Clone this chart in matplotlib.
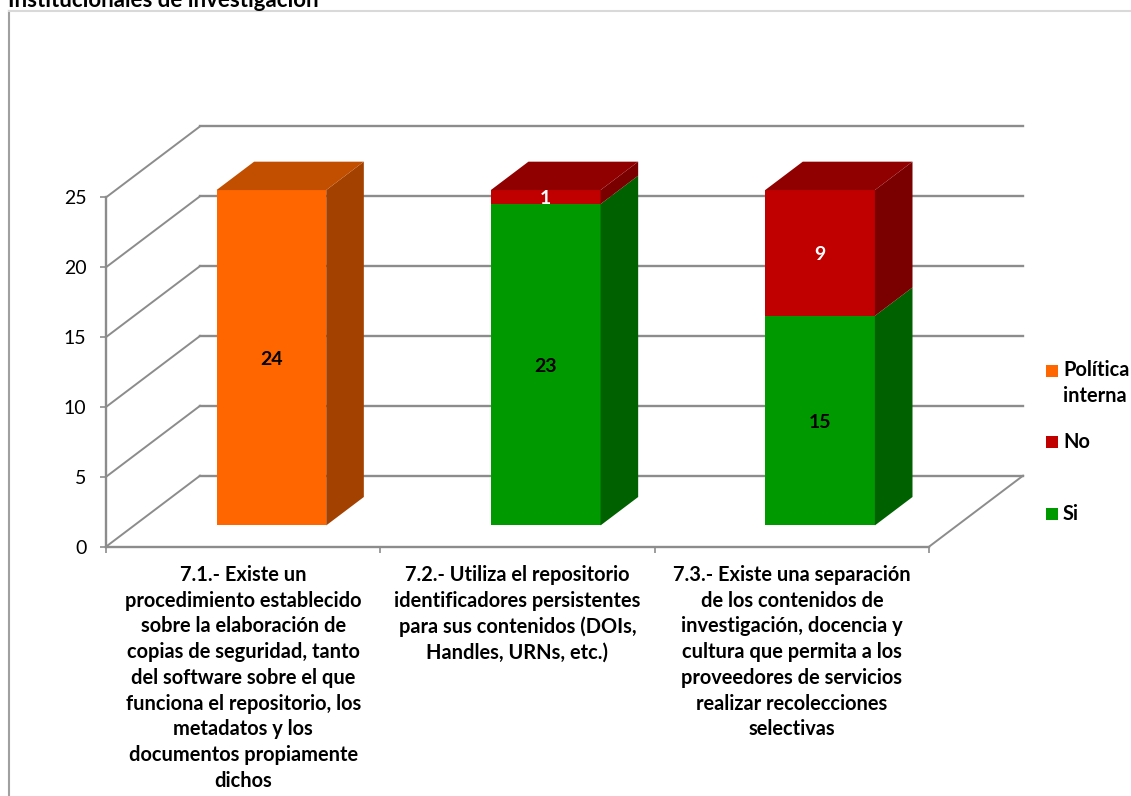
import matplotlib
matplotlib.use("Agg")
import matplotlib.pyplot as plt
from matplotlib.lines import Line2D
from matplotlib.patches import Rectangle

plt.rcParams['font.family'] = ['Lato', 'DejaVu Sans']

# data
title = "Institucionales de investigación"
categories = [
    "7.1.- Existe un\nprocedimiento establecido\nsobre la elaboración de\ncopias de seguridad, tanto\ndel software sobre el que\nfunciona el repositorio, los\nmetadatos y los\ndocumentos propiamente\ndichos",
    "7.2.- Utiliza el repositorio\nidentificadores persistentes\npara sus contenidos (DOIs,\nHandles, URNs, etc.)",
    "7.3.- Existe una separación\nde los contenidos de\ninvestigación, docencia y\ncultura que permita a los\nproveedores de servicios\nrealizar recolecciones\nselectivas",
]
si = [0, 23, 15]
no = [0, 1, 9]
politica = [24, 0, 0]
yticks = [0, 5, 10, 15, 20, 25]

# colours: front, side, top
c_si = ("#009900", "#006100", "#007a00")
c_no = ("#C00000", "#7A0000", "#900000")
c_pol = ("#FF6600", "#A34100", "#C24E00")
grid_col = "#8C8C8C"

W, H = 1131, 796
fig = plt.figure(figsize=(W / 100, H / 100), dpi=100)

# axes sit on the front plane of the fake 3d box
left, right, y0, y25 = 106, 929, 546.7, 197.4
ax = fig.add_axes([left / W, 1 - y0 / H, (right - left) / W, (y0 - y25) / H])
ax.set_xlim(0, 3)
ax.set_ylim(0, 25)
ax.patch.set_visible(False)

# depth of box in data units
DX = 94 / ((right - left) / 3)
DY = 71 / ((y0 - y25) / 25)
bar_w = 0.40
d_front, d_back = 0.30, 0.70

# walls and grid
for v in yticks:
    ax.plot([0, DX], [v, v + DY], color=grid_col, lw=1.4, clip_on=False, zorder=1)
    ax.plot([DX, 3 + DX], [v + DY, v + DY], color=grid_col, lw=1.7, clip_on=False, zorder=1)
ax.plot([3, 3 + DX], [0, DY], color=grid_col, lw=1.4, clip_on=False, zorder=1)


def bar3d(i, bottom, height, cols, has_top):
    xc = i + 0.5
    x0 = xc - bar_w / 2
    x1 = xc + bar_w / 2
    fx, fy = d_front * DX, d_front * DY
    bx, by = d_back * DX, d_back * DY
    top = bottom + height
    ax.bar(xc + fx, height, bar_w, bottom=bottom + fy, color=cols[0], lw=0, clip_on=False, zorder=3)
    ax.fill([x1 + fx, x1 + bx, x1 + bx, x1 + fx],
            [bottom + fy, bottom + by, top + by, top + fy],
            color=cols[1], lw=0, clip_on=False, zorder=3)
    if has_top:
        ax.fill([x0 + fx, x1 + fx, x1 + bx, x0 + bx],
                [top + fy, top + fy, top + by, top + by],
                color=cols[2], lw=0, clip_on=False, zorder=3)


series = [(si, c_si, "black"), (no, c_no, "white"), (politica, c_pol, "black")]
for i in range(3):
    base = 0
    total = si[i] + no[i] + politica[i]
    for vals, cols, txt in series:
        if vals[i] == 0:
            continue
        bar3d(i, base, vals[i], cols, base + vals[i] == total)
        ax.annotate(str(vals[i]), xy=(i + 0.5 + d_front * DX, base + vals[i] / 2 + d_front * DY),
                    xytext=(0, -1.2), textcoords="offset points", ha="center", va="center",
                    color=txt, fontsize=14, fontweight="bold", zorder=4, annotation_clip=False)
        base += vals[i]

# axes lines
for s in ["top", "right"]:
    ax.spines[s].set_visible(False)
for s in ["left", "bottom"]:
    ax.spines[s].set_color(grid_col)
    ax.spines[s].set_linewidth(1.7)
ax.set_yticks(yticks)
ax.set_xticks([0, 1, 2, 3])
ax.set_xticklabels([])
ax.tick_params(axis="y", length=4, width=1.2, color=grid_col, pad=10, labelsize=14)
ax.tick_params(axis="x", length=4, width=1.2, color=grid_col)

for i, label in enumerate(categories):
    ax.annotate(label, xy=(i + 0.5, 0), xytext=(0, -13), textcoords="offset points",
                ha="center", va="top", ma="center", fontsize=14.4, fontweight="bold",
                linespacing=1.36, annotation_clip=False)

# outer frame and clipped title
fig.add_artist(Line2D([9 / W, 9 / W], [0, 1 - 11 / H], color="#A0A0A0", lw=1.5))
fig.add_artist(Line2D([9 / W, 1], [1 - 11 / H, 1 - 11 / H], color="#D9D9D9", lw=1.5))
fig.text(8 / W, 1 - 7 / H, title, fontsize=16, fontweight="bold", va="baseline", ha="left")

# legend
legend_items = [("Política\ninterna", c_pol[0], 371, 383), ("No", c_no[0], 442, 442), ("Si", c_si[0], 514, 514)]
for label, col, ys, yt in legend_items:
    fig.add_artist(Rectangle((1046 / W, 1 - (ys + 6) / H), 12 / W, 12 / H, color=col, lw=0))
    fig.text(1063 / W, 1 - yt / H, label, fontsize=14.4, fontweight="bold", va="center", ha="left", linespacing=1.36)

fig.savefig("out.png", dpi=100)
